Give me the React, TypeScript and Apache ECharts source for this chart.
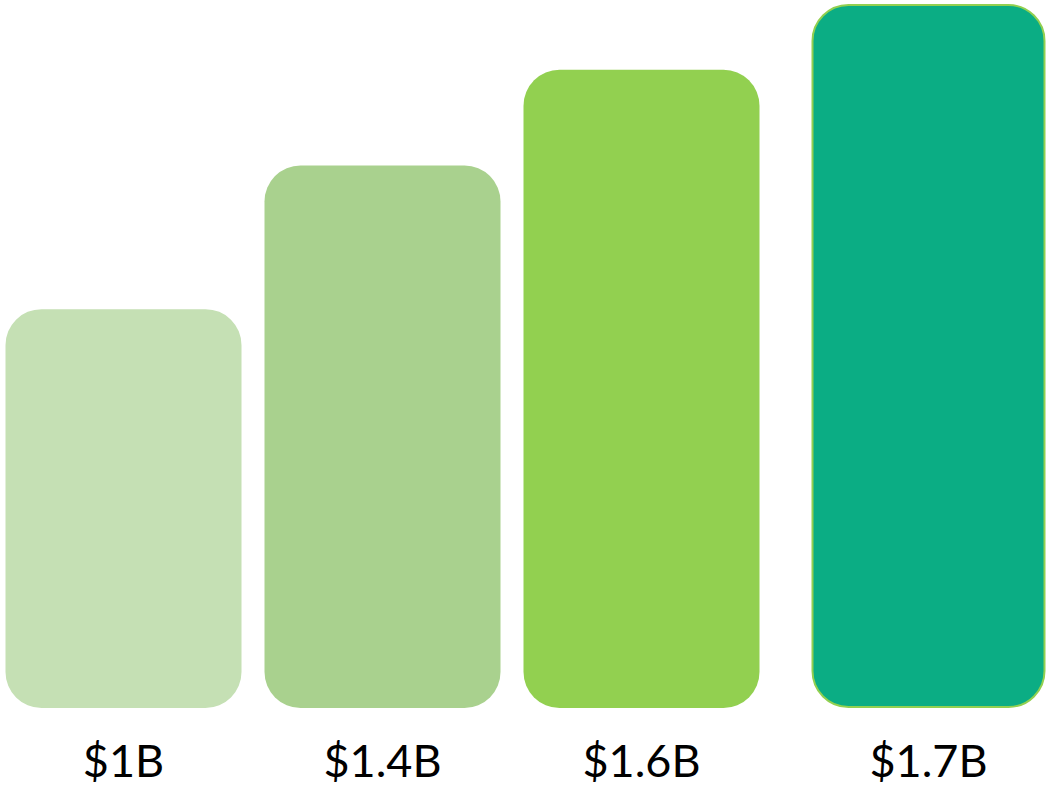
import React, { useEffect, useRef } from "react";
import * as echarts from "echarts";

const categories = ["$1B", "$1.4B", "$1.6B", "$1.7B"];
// relative bar heights (first bar = 1)
const barHeights = [1.0, 1.36, 1.6, 1.765];
const barColors = ["#c5e0b4", "#a9d18e", "#92d050", "#0bad84"];
const yMax = 1.775;

export default function App() {
  const ref = useRef<HTMLDivElement>(null);
  useEffect(() => {
    const chart = echarts.init(ref.current!, null, { renderer: "svg" });
    const label = {
      show: true,
      fontFamily: "Lato, 'Open Sans', sans-serif",
      fontSize: 45,
      color: "#000",
      margin: 29,
      interval: 0,
    };
    const firstCats = categories.slice(0, 3);
    const lastCats = categories.slice(3);
    const mkData = (cats: string[], offset: number) =>
      cats.map((_, i) => ({
        value: barHeights[i + offset],
        itemStyle: {
          color: barColors[i + offset],
          borderRadius: 36,
          ...(i + offset === 3 ? { borderColor: "#92d050", borderWidth: 2 } : {}),
        },
      }));
    chart.setOption({
      animation: false,
      grid: [
        { left: 0, width: 777, top: 0, height: 708 },
        { left: 816.5, width: 236, top: 0, height: 708 },
      ],
      xAxis: [
        {
          type: "category",
          gridIndex: 0,
          data: firstCats,
          axisLine: { show: false },
          axisTick: { show: false },
          axisLabel: label,
        },
        {
          type: "category",
          gridIndex: 1,
          data: lastCats,
          axisLine: { show: false },
          axisTick: { show: false },
          axisLabel: label,
        },
      ],
      yAxis: [
        { type: "value", gridIndex: 0, min: 0, max: yMax, show: false, splitLine: { show: false } },
        { type: "value", gridIndex: 1, min: 0, max: yMax, show: false, splitLine: { show: false } },
      ],
      series: [
        {
          type: "bar",
          xAxisIndex: 0,
          yAxisIndex: 0,
          barWidth: 236,
          data: mkData(firstCats, 0),
        },
        {
          type: "bar",
          xAxisIndex: 1,
          yAxisIndex: 1,
          barWidth: 234,
          data: mkData(lastCats, 3),
        },
      ],
    });
    return () => chart.dispose();
  }, []);
  return (
    <div
      ref={ref}
      style={{ position: "absolute", left: -6.5, top: 0, width: 1054, height: 785, background: "#fff" }}
    />
  );
}
